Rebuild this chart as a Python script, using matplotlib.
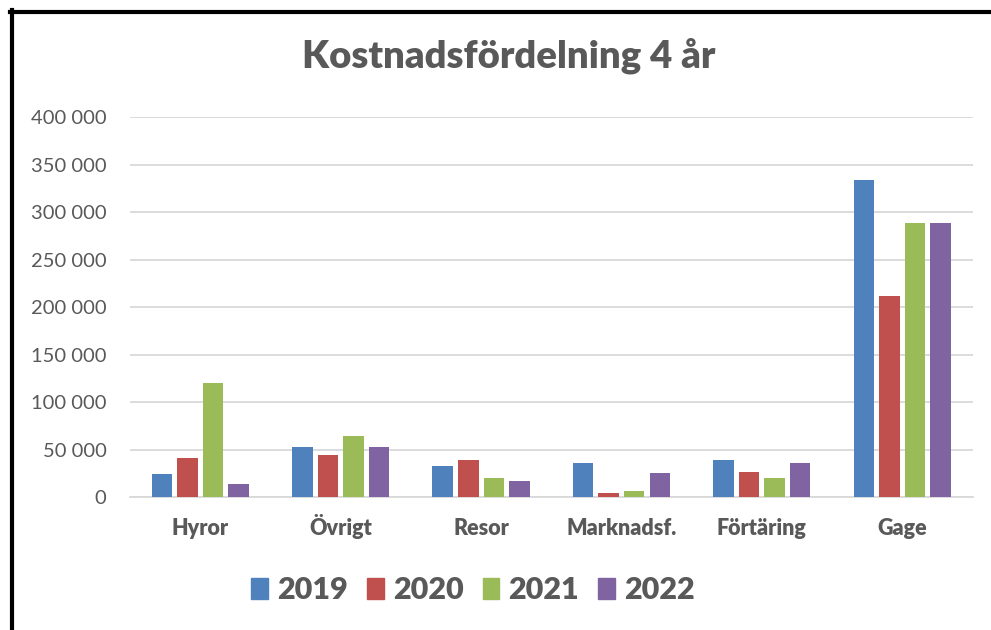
import matplotlib
matplotlib.use("Agg")
import matplotlib.pyplot as plt
import numpy as np
from matplotlib.lines import Line2D
from matplotlib.patches import Rectangle

categories = ["Hyror", "Övrigt", "Resor", "Marknadsf.", "Förtäring", "Gage"]
years = ["2019", "2020", "2021", "2022"]
v2019 = [24000, 52600, 32600, 35800, 39300, 334000]
v2020 = [41000, 45000, 39300, 4500, 26300, 211500]
v2021 = [120500, 65000, 20300, 6300, 20000, 288500]
v2022 = [14000, 52600, 17200, 25200, 35800, 288500]
series = [v2019, v2020, v2021, v2022]
colors = ["#4F81BD", "#C0504D", "#9BBB59", "#8064A2"]
yticks = [0, 50000, 100000, 150000, 200000, 250000, 300000, 350000, 400000]
ytick_labels = ["0", "50 000", "100 000", "150 000", "200 000", "250 000",
                "300 000", "350 000", "400 000"]

txt = "#595959"
plt.rcParams['font.family'] = ['Lato', 'DejaVu Sans']

fig = plt.figure(figsize=(9.91, 6.30), dpi=100)
ax = fig.add_axes([130/991, 1-497.3/630, (972.5-130)/991, (497.3-117)/630])

x = np.arange(len(categories))
pitch = 0.182
bw = 0.146
for i, (vals, c) in enumerate(zip(series, colors)):
    ax.bar(x + (i - 1.5) * pitch, vals, width=bw, color=c, label=years[i], zorder=3)

ax.set_xlim(-0.5, len(categories) - 0.5)
ax.set_ylim(0, 400000)
ax.set_yticks(yticks)
ax.set_yticklabels(ytick_labels, fontsize=14.5, color=txt)
ax.set_xticks(x)
ax.set_xticklabels(categories, fontsize=15.5, fontweight='heavy', color=txt,
                   va='baseline')
ax.tick_params(axis='y', length=0, pad=17)
ax.tick_params(axis='x', length=0, pad=27.5)
ax.grid(axis='y', color='#D9D9D9', linewidth=1.3, zorder=0)
for s in ['top', 'right', 'left']:
    ax.spines[s].set_visible(False)
ax.spines['bottom'].set_color('#D9D9D9')
ax.spines['bottom'].set_linewidth(1.3)

fig.text(509/991, 1-56/630, "Kostnadsfördelning 4 år", ha='center', va='center',
         fontsize=27.5, fontweight='heavy', color=txt)

handles = [Rectangle((0, 0), 1, 1, color=c) for c in colors]
leg = fig.legend(handles, years, loc='center', bbox_to_anchor=(473/991, 1-590/630),
                 ncol=4, frameon=False, prop={'weight': 'heavy', 'size': 22},
                 handlelength=0.55, handleheight=0.7, handletextpad=0.3,
                 columnspacing=0.62, labelcolor=txt)

fig.add_artist(Line2D([12/991, 12/991], [0, 1-10/630], transform=fig.transFigure,
                      color='black', linewidth=3))
fig.add_artist(Line2D([10/991, 1], [1-12/630, 1-12/630], transform=fig.transFigure,
                      color='black', linewidth=3))

fig.savefig("out.png", dpi=100, facecolor='white')
